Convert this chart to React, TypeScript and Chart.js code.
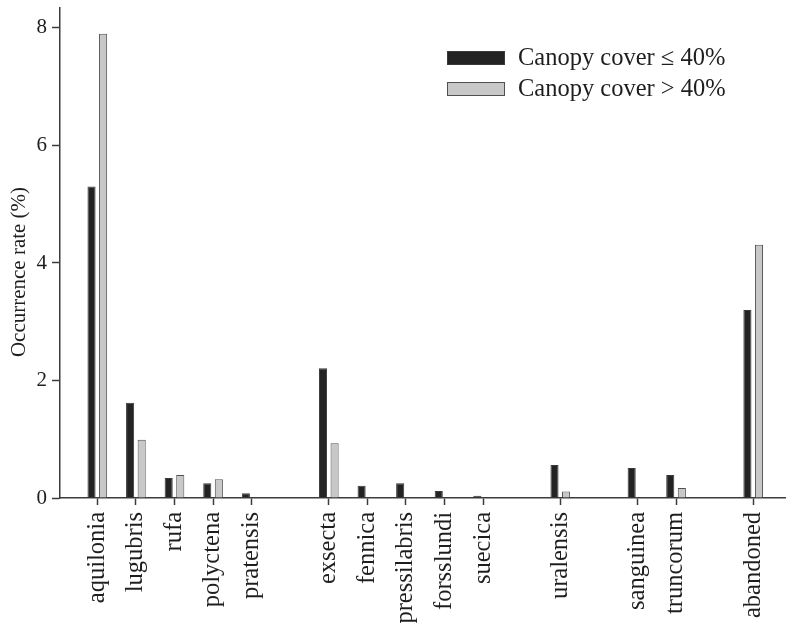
import React, { useEffect, useRef } from 'react';
import { Chart, registerables } from 'chart.js';

Chart.register(...registerables);

// ---- data ----
const categories = [
  'aquilonia', 'lugubris', 'rufa', 'polyctena', 'pratensis',
  'exsecta', 'fennica', 'pressilabris', 'forsslundi', 'suecica',
  'uralensis', 'sanguinea', 'truncorum', 'abandoned',
];
// slot index of each category along the axis (groups separated by empty slots)
const slots = [1, 2, 3, 4, 5, 7, 8, 9, 10, 11, 13, 15, 16, 18];
const coverLow = [5.3, 1.62, 0.34, 0.25, 0.08, 2.21, 0.21, 0.25, 0.12, 0.04, 0.56, 0.51, 0.39, 3.2];
const coverHigh = [7.9, 0.99, 0.39, 0.32, null, 0.93, null, null, null, null, 0.11, null, 0.17, 4.31];
const seriesLabels = ['Canopy cover \u2264 40%', 'Canopy cover > 40%'];
const yTickValues = [0, 2, 4, 6, 8];
const yTitle = 'Occurrence rate (%)';

const FONT = "'Liberation Serif', 'Times New Roman', serif";
const AXIS = '#3c3c3c';
const TEXT = '#1e1e1e';
const DARK = '#232323';
const LIGHT = '#c8c8c8';

const textPlugin = {
  id: 'textPlugin',
  afterDraw(chart: any) {
    const ctx = chart.ctx;
    ctx.save();
    // y-axis title
    ctx.fillStyle = TEXT;
    ctx.font = `21px ${FONT}`;
    ctx.translate(19, 272);
    ctx.rotate(-Math.PI / 2);
    ctx.textAlign = 'center';
    ctx.textBaseline = 'middle';
    ctx.fillText(yTitle, 0, 0);
    ctx.restore();

    // legend
    ctx.save();
    const ds = chart.data.datasets;
    const rows = [58, 89];
    ds.forEach((d: any, i: number) => {
      const y = rows[i];
      ctx.fillStyle = d.backgroundColor;
      ctx.fillRect(447, y - 7, 58, 14);
      ctx.strokeStyle = d.borderColor;
      ctx.lineWidth = 1;
      ctx.strokeRect(447.5, y - 6.5, 57, 13);
      ctx.fillStyle = TEXT;
      ctx.font = `24.5px ${FONT}`;
      ctx.textAlign = 'left';
      ctx.textBaseline = 'middle';
      ctx.fillText(d.label, 518, y + 1);
    });
    ctx.restore();
  },
};

export default function App() {
  const ref = useRef<HTMLCanvasElement | null>(null);

  useEffect(() => {
    if (!ref.current) return;
    const chart = new Chart(ref.current, {
      type: 'bar',
      data: {
        datasets: [
          {
            label: seriesLabels[0],
            data: categories.map((_, i) => ({ x: slots[i], y: coverLow[i] })),
            backgroundColor: DARK,
            borderColor: '#3a3a3a',
            borderWidth: 1,
            categoryPercentage: 0.6,
            barPercentage: 0.7,
          },
          {
            label: seriesLabels[1],
            data: categories.map((_, i) => ({ x: slots[i], y: coverHigh[i] })),
            backgroundColor: LIGHT,
            borderColor: '#505050',
            borderWidth: 1,
            categoryPercentage: 0.6,
            barPercentage: 0.7,
          },
        ] as any,
      },
      options: {
        animation: false,
        responsive: false,
        maintainAspectRatio: false,
        layout: { padding: { top: 8, left: 0, right: 0, bottom: 0 } },
        plugins: {
          legend: { display: false },
          tooltip: { enabled: false },
          title: { display: false },
        },
        scales: {
          x: {
            type: 'linear',
            min: 0.033,
            max: 18.85,
            bounds: 'data',
            offset: false,
            afterBuildTicks: (scale: any) => {
              scale.ticks = slots.map((v) => ({ value: v }));
            },
            afterFit: (scale: any) => {
              scale.height = 127;
              scale.paddingLeft = 0;
              scale.paddingRight = 0;
            },
            border: { display: true, color: AXIS, width: 1.5 },
            grid: {
              display: true,
              offset: false,
              drawOnChartArea: false,
              drawTicks: true,
              tickLength: 7,
              tickColor: AXIS,
              tickWidth: 1.5,
            },
            ticks: {
              autoSkip: false,
              maxRotation: 90,
              minRotation: 90,
              padding: 7,
              color: TEXT,
              font: { family: FONT, size: 24.5 },
              callback: (v: any) => {
                const i = slots.indexOf(Number(v));
                return i >= 0 ? categories[i] : '';
              },
            },
          },
          y: {
            type: 'linear',
            min: 0,
            max: 8.34,
            bounds: 'data',
            afterBuildTicks: (scale: any) => {
              scale.ticks = yTickValues.map((v) => ({ value: v }));
            },
            afterFit: (scale: any) => {
              scale.width = 60;
              scale.paddingTop = 0;
              scale.paddingBottom = 0;
            },
            border: { display: true, color: AXIS, width: 1.5 },
            grid: {
              display: true,
              drawOnChartArea: false,
              drawTicks: true,
              tickLength: 8,
              tickColor: AXIS,
              tickWidth: 1.5,
            },
            ticks: {
              padding: 5,
              color: TEXT,
              font: { family: FONT, size: 21 },
              callback: (v: any) => String(v),
            },
          },
        },
      } as any,
      plugins: [textPlugin],
    });
    return () => chart.destroy();
  }, []);

  return (
    <div style={{ position: 'absolute', left: 0, top: 0, width: 786, height: 625, background: '#fff' }}>
      <canvas ref={ref} width={786} height={625} style={{ display: 'block' }} />
    </div>
  );
}
